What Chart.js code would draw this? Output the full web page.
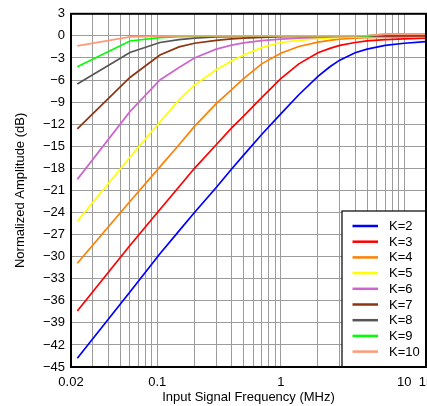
<!DOCTYPE html>
<html>
<head>
<meta charset="utf-8">
<script src="https://cdn.jsdelivr.net/npm/chart.js@4"></script>
<style>
    body { margin: 0; background: #fff; }
    canvas { display: block; }
</style>
</head>
<body>
<canvas id="AmpChart" width="427" height="406"></canvas>
<script>
const freqs = [0.0225, 0.06, 0.105, 0.15, 0.2, 0.3, 0.4, 0.5, 0.7, 1, 1.4, 2, 2.5, 3, 4, 5, 7, 10, 15];

const k2 = [-43.8, -34.8, -29.6, -26.5, -24.0, -20.6, -18.1, -16.2, -13.4, -10.6, -8.0, -5.5, -4.2, -3.3, -2.3, -1.8, -1.3, -1.0, -0.77];
const k3 = [-37.4, -28.5, -23.6, -20.5, -18.0, -14.8, -12.5, -10.9, -8.4, -5.8, -3.8, -2.3, -1.7, -1.3, -0.9, -0.68, -0.5, -0.4, -0.3];
const k4 = [-30.9, -22.5, -17.8, -14.8, -12.3, -9.2, -7.3, -5.8, -3.8, -2.35, -1.45, -0.85, -0.62, -0.45, -0.32, -0.25, -0.2, -0.15, -0.1];
const k5 = [-25.2, -16.5, -11.7, -8.7, -6.7, -4.6, -3.4, -2.6, -1.6, -0.9, -0.6, -0.38, -0.28, -0.22, -0.15, -0.12, -0.08, -0.05, -0.03];
const k6 = [-19.5, -10.3, -6.0, -4.3, -3.0, -1.8, -1.25, -0.95, -0.65, -0.45, -0.3, -0.2, -0.14, -0.1, -0.07, -0.05, -0.03, -0.02, 0];
const k7 = [-12.65, -5.65, -2.6, -1.5, -1.0, -0.62, -0.4, -0.3, -0.2, -0.12, -0.08, -0.05, -0.04, -0.03, -0.02, -0.01, 0, 0, 0];
const k8 = [-6.55, -2.26, -0.9, -0.5, -0.3, -0.15, -0.1, -0.06, -0.03, 0, 0, 0, 0, 0, 0, 0, 0.1, 0.1, 0.1];
const k9 = [-4.2, -0.7, -0.25, -0.12, -0.06, 0, 0, 0, 0, 0, 0, 0, 0, 0, 0, 0, 0.25, 0.25, 0.25];
const k10 = [-1.36, -0.14, -0.05, 0, 0, 0, 0, 0, 0, 0, 0, 0, 0, 0, 0, 0.05, 0.25, 0.25, 0.25];

const seriesLabels = ["K=2", "K=3", "K=4", "K=5", "K=6", "K=7", "K=8", "K=9", "K=10"];
const seriesValues = [k2, k3, k4, k5, k6, k7, k8, k9, k10];
const seriesColors = ["#0000ff", "#ff0000", "#ff8000", "#ffff00", "#cc66cc", "#8c3510", "#555555", "#00ff00", "#ff9977"];

const xGridValues = [0.02, 0.03, 0.04, 0.05, 0.06, 0.07, 0.08, 0.09,
    0.1, 0.2, 0.3, 0.4, 0.5, 0.6, 0.7, 0.8, 0.9,
    1, 2, 3, 4, 5, 6, 7, 8, 9, 10, 15];
const xTickLabels = [0.02, 0.1, 1, 10, 15];

const font = "'Liberation Sans', Arial, sans-serif";

// black frame round the plot, then the boxed legend in the lower right corner
const framePlugin = {
    id: "frame",
    afterDatasetsDraw(chart) {
        const ctx = chart.ctx;
        const a = chart.chartArea;
        ctx.save();

        const bx = 342, by = 211;
        ctx.fillStyle = "#fff";
        ctx.fillRect(bx, by, a.right - bx, a.bottom - by);
        ctx.strokeStyle = "#000";
        ctx.lineWidth = 1.2;
        ctx.strokeRect(bx, by, a.right - bx, a.bottom - by);

        ctx.font = "13px " + font;
        ctx.textBaseline = "middle";
        ctx.fillStyle = "#000";
        chart.data.datasets.forEach((ds, i) => {
            const y = 226 + i * 15.7;
            ctx.strokeStyle = ds.borderColor;
            ctx.lineWidth = 2.5;
            ctx.beginPath();
            ctx.moveTo(352.5, y);
            ctx.lineTo(378, y);
            ctx.stroke();
            ctx.fillText(ds.label, 389, y + 0.5);
        });

        ctx.strokeStyle = "#000";
        ctx.lineWidth = 2;
        ctx.strokeRect(a.left, a.top, a.right - a.left, a.bottom - a.top);
        ctx.restore();
    }
};

new Chart(document.querySelector('#AmpChart'), {
    type: 'line',
    data: {
        datasets: seriesLabels.map((label, i) => ({
            label: label,
            data: freqs.map((f, j) => ({ x: f, y: seriesValues[i][j] })),
            borderColor: seriesColors[i],
            borderWidth: 1.7,
            pointRadius: 0,
            tension: 0,
            order: -i
        }))
    },
    options: {
        responsive: false,
        animation: false,
        devicePixelRatio: 1,
        layout: {
            padding: { top: 13, right: 1, bottom: 0, left: 0 }
        },
        plugins: {
            legend: { display: false },
            tooltip: { enabled: false }
        },
        scales: {
            x: {
                type: 'logarithmic',
                min: 0.02,
                max: 15,
                afterBuildTicks: axis => {
                    axis.ticks = xGridValues.map(v => ({ value: v }));
                },
                afterFit: axis => {
                    axis.height = 39;
                    axis.paddingLeft = 0;
                    axis.paddingRight = 0;
                },
                ticks: {
                    autoSkip: false,
                    maxRotation: 0,
                    minRotation: 0,
                    padding: 8,
                    color: "#000",
                    font: { family: font, size: 13 },
                    callback: v => xTickLabels.includes(v) ? String(v) : ''
                },
                grid: {
                    color: "#9c9c9c",
                    lineWidth: 1,
                    drawTicks: false
                },
                border: { display: false },
                title: {
                    display: true,
                    text: "Input Signal Frequency (MHz)",
                    color: "#000",
                    font: { family: font, size: 13 },
                    padding: { top: 0, bottom: 1 }
                }
            },
            y: {
                min: -45,
                max: 3,
                afterFit: axis => {
                    axis.width = 71;
                },
                ticks: {
                    stepSize: 3,
                    padding: 6,
                    color: "#000",
                    font: { family: font, size: 13 },
                    callback: v => String(v).replace('-', '\u2212')
                },
                grid: {
                    color: "#9c9c9c",
                    lineWidth: 1,
                    drawTicks: false
                },
                border: { display: false },
                title: {
                    display: true,
                    text: "Normalized Amplitude (dB)",
                    color: "#000",
                    font: { family: font, size: 13 },
                    padding: { top: 13, bottom: 0 }
                }
            }
        }
    },
    plugins: [framePlugin]
});
</script>
</body>
</html>
